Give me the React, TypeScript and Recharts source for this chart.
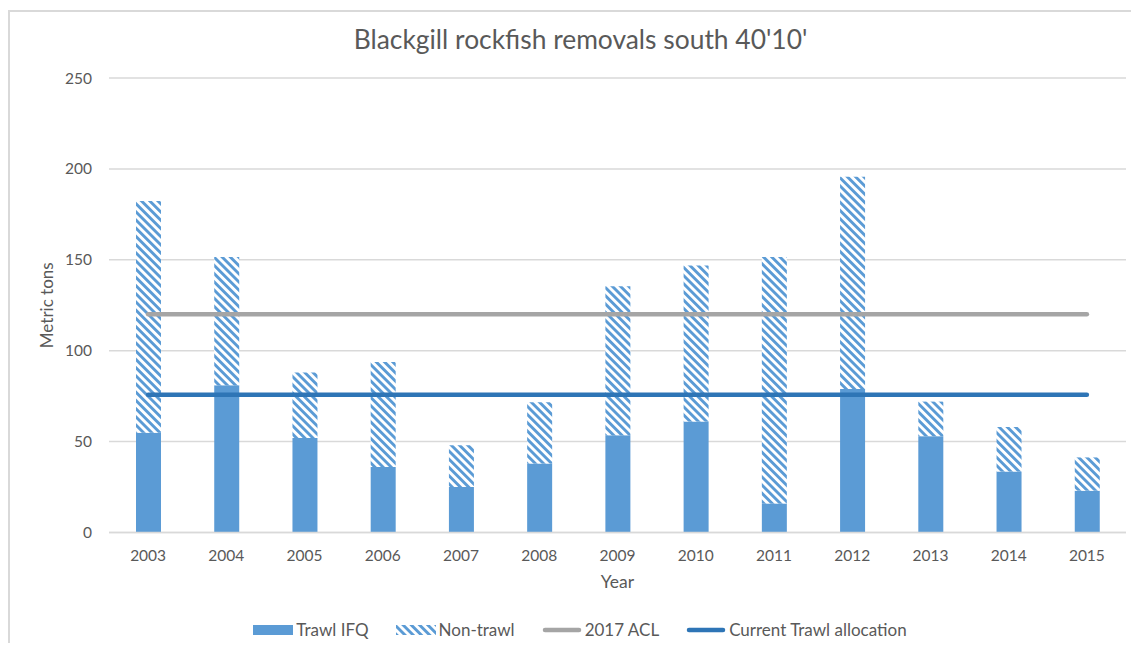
import React from 'react';
import { ComposedChart, Bar, Line, XAxis, YAxis, CartesianGrid, Legend, Label } from 'recharts';

const years = ['2003', '2004', '2005', '2006', '2007', '2008', '2009', '2010', '2011', '2012', '2013', '2014', '2015'];
const trawlIFQ = [54.8, 81, 52, 36, 25, 38, 53.5, 61, 16, 79, 53, 33.5, 23];
const nonTrawl = [127.5, 70.5, 36, 57.8, 23, 33.7, 82, 85.8, 135.5, 116.7, 19, 24.5, 18.3];
const acl2017 = [120, 120, 120, 120, 120, 120, 120, 120, 120, 120, 120, 120, 120];
const currentTrawl = [75.8, 75.8, 75.8, 75.8, 75.8, 75.8, 75.8, 75.8, 75.8, 75.8, 75.8, 75.8, 75.8];
const yTicks = [0, 50, 100, 150, 200, 250];

const TITLE = "Blackgill rockfish removals south 40'10'";
const legendItems = [
  { label: 'Trawl IFQ', kind: 'bar' },
  { label: 'Non-trawl', kind: 'hatch' },
  { label: '2017 ACL', kind: 'acl' },
  { label: 'Current Trawl allocation', kind: 'cur' },
];

const data = years.map((y, i) => ({
  year: y,
  ifq: trawlIFQ[i],
  non: nonTrawl[i],
  acl: acl2017[i],
  cur: currentTrawl[i],
}));

const BLUE = '#5B9BD5';
const GRAY = '#A5A5A5';
const DARK = '#2E75B6';
const TEXT = '#595959';
const GRID = '#D9D9D9';
const FONT = 'Lato, "Open Sans", sans-serif';

function HatchDef({ id }: { id: string }) {
  return (
    <pattern id={id} patternUnits="userSpaceOnUse" width="5.8" height="5.8" patternTransform="rotate(45)">
      <rect x="0" y="0" width="5.8" height="5.8" fill="#ffffff" />
      <rect x="0" y="0" width="5.8" height="2.9" fill={BLUE} />
    </pattern>
  );
}

function LegendIcon({ kind }: { kind: string }) {
  return (
    <svg width={40} height={12} style={{ display: 'block' }}>
      <defs>
        <HatchDef id="legendHatch" />
      </defs>
      {kind === 'bar' && <rect x={0} y={1} width={40} height={10} fill={BLUE} />}
      {kind === 'hatch' && <rect x={0} y={1} width={40} height={10} fill="url(#legendHatch)" />}
      {kind === 'acl' && <line x1={3} y1={6} x2={37} y2={6} stroke={GRAY} strokeWidth={4.5} strokeLinecap="round" />}
      {kind === 'cur' && <line x1={3} y1={6} x2={37} y2={6} stroke={DARK} strokeWidth={4.5} strokeLinecap="round" />}
    </svg>
  );
}

function LegendContent() {
  return (
    <div
      style={{
        display: 'flex',
        justifyContent: 'center',
        alignItems: 'center',
        fontSize: 17,
        color: TEXT,
        fontFamily: FONT,
        paddingLeft: 13,
        lineHeight: '20px',
      }}
    >
      {legendItems.map((it, i) => (
        <div key={it.label} style={{ display: 'flex', alignItems: 'center', marginRight: i < legendItems.length - 1 ? 27 : 0 }}>
          <LegendIcon kind={it.kind} />
          <span style={{ marginLeft: 3, whiteSpace: 'nowrap' }}>{it.label}</span>
        </div>
      ))}
    </div>
  );
}

export default function App() {
  return (
    <div
      style={{
        position: 'relative',
        width: 1131,
        height: 635,
        overflow: 'hidden',
        fontFamily: FONT,
        background: '#ffffff',
      }}
    >
      <div
        style={{
          position: 'absolute',
          left: 0,
          top: 2,
          width: 1200,
          height: 700,
          borderLeft: `2px solid ${GRID}`,
          borderTop: `2px solid ${GRID}`,
          boxSizing: 'border-box',
        }}
      />
      <div
        style={{
          position: 'absolute',
          left: 7,
          top: 15,
          width: 1131,
          textAlign: 'center',
          fontSize: 26.4,
          color: TEXT,
          whiteSpace: 'nowrap',
        }}
      >
        {TITLE}
      </div>
      <div style={{ position: 'absolute', left: 0, top: 0 }}>
        <ComposedChart width={1131} height={635} data={data} margin={{ top: 70, right: 13, bottom: 50.5, left: 0 }}>
          <defs>
            <HatchDef id="hatchFill" />
          </defs>
          <CartesianGrid vertical={false} stroke={GRID} strokeWidth={1.5} />
          <XAxis
            dataKey="year"
            interval={0}
            height={60}
            tickLine={false}
            tickSize={0}
            tickMargin={17}
            axisLine={{ stroke: GRID, strokeWidth: 1.5 }}
            tick={{ fill: TEXT, fontSize: 15.5 }}
          >
            <Label value="Year" position="insideBottom" offset={5} style={{ fill: TEXT, fontSize: 17.5 }} />
          </XAxis>
          <YAxis
            width={101}
            domain={[0, 250]}
            ticks={yTicks}
            axisLine={false}
            tickLine={false}
            tickSize={0}
            tickMargin={17}
            tick={{ fill: TEXT, fontSize: 15.5 }}
          >
            <Label value="Metric tons" angle={-90} position="center" dx={-12} style={{ fill: TEXT, fontSize: 17, textAnchor: 'middle' }} />
          </YAxis>
          <Legend
            layout="horizontal"
            verticalAlign="middle"
            align="center"
            wrapperStyle={{ top: 612, left: 0, width: 1131 }}
            content={<LegendContent />}
          />
          <Bar dataKey="ifq" name="Trawl IFQ" stackId="s" fill={BLUE} barSize={25} isAnimationActive={false} />
          <Bar dataKey="non" name="Non-trawl" stackId="s" fill="url(#hatchFill)" barSize={25} isAnimationActive={false} />
          <Line
            dataKey="acl"
            name="2017 ACL"
            stroke={GRAY}
            strokeWidth={4.5}
            strokeLinecap="round"
            dot={false}
            activeDot={false}
            isAnimationActive={false}
          />
          <Line
            dataKey="cur"
            name="Current Trawl allocation"
            stroke={DARK}
            strokeWidth={4.5}
            strokeLinecap="round"
            dot={false}
            activeDot={false}
            isAnimationActive={false}
          />
        </ComposedChart>
      </div>
    </div>
  );
}
